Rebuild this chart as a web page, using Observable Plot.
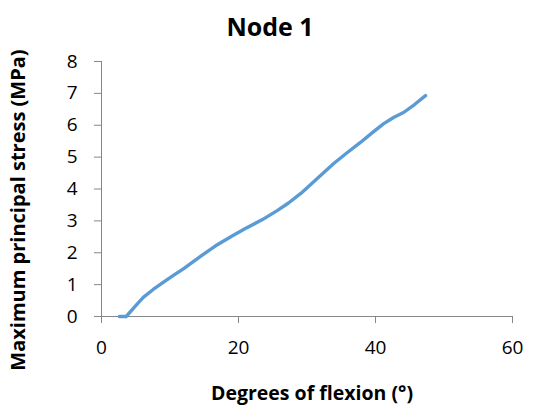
<!DOCTYPE html>
<html>
<head>
<meta charset="utf-8">
<script src="https://cdn.jsdelivr.net/npm/d3@7"></script>
<script src="https://cdn.jsdelivr.net/npm/@observablehq/plot@0.6"></script>
<style>
  html, body { margin: 0; padding: 0; background: #fff; overflow: hidden; }
  #title { width: 533px; height: 40px; box-sizing: border-box; padding-top: 11px; padding-left: 7px;
           text-align: center; font-family: "Open Sans", sans-serif; font-weight: bold; font-size: 25px; color: #000; line-height: 30px; white-space: nowrap; }
  #chart svg { overflow: visible; }
</style>
</head>
<body>
<div id="title"></div>
<div id="chart"></div>
<script>
const title = "Node 1";
const xLabel = "Degrees of flexion (°)";
const yLabel = "Maximum principal stress (MPa)";
const xTicks = [0, 20, 40, 60];
const yTicks = [0, 1, 2, 3, 4, 5, 6, 7, 8];
const flexion = [2.6, 3.6, 5.0, 6.1, 7.5, 9.0, 10.5, 12.0, 14.2, 16.6, 19.0, 21.0, 23.5, 25.7, 27.3, 29.1, 31.5, 33.9, 35.8, 37.8, 39.5, 41.2, 42.7, 44.1, 45.7, 47.3];
const stress  = [0.0, 0.0, 0.34, 0.60, 0.84, 1.07, 1.29, 1.50, 1.85, 2.21, 2.52, 2.76, 3.04, 3.33, 3.56, 3.86, 4.33, 4.80, 5.13, 5.46, 5.76, 6.05, 6.25, 6.40, 6.65, 6.93];

document.getElementById("title").textContent = title;
const data = flexion.map((x, i) => ({x, y: stress[i]}));

const chart = Plot.plot({
  width: 533,
  height: 366,
  marginTop: 21,
  marginBottom: 90,
  marginLeft: 101,
  marginRight: 21,
  x: {domain: [0, 60]},
  y: {domain: [0, 8]},
  style: {fontFamily: "Open Sans, sans-serif", fontSize: "19px", color: "#000", background: "#fff", overflow: "visible"},
  marks: [
    Plot.ruleY([0], {stroke: "#868686", strokeWidth: 1}),
    Plot.ruleX([0], {stroke: "#868686", strokeWidth: 1}),
    Plot.axisY({ticks: yTicks, tickSize: 7, tickPadding: 17, stroke: "#868686", label: null, tickFormat: d => String(d)}),
    Plot.axisX({ticks: xTicks, tickSize: 7, tickPadding: 17, stroke: "#868686", label: null, tickFormat: d => String(d)}),
    Plot.line(data, {x: "x", y: "y", stroke: "#5B9BD5", strokeWidth: 3.4, strokeLinejoin: "round", strokeLinecap: "round"}),
    Plot.text([xLabel], {text: d => d, frameAnchor: "bottom", dx: 5, dy: 77, lineAnchor: "middle", fontWeight: "bold", fontSize: 19.5}),
    Plot.text([yLabel], {text: d => d, frameAnchor: "left", rotate: -90, dx: -83, dy: 21, lineAnchor: "middle", textAnchor: "middle", fontWeight: "bold", fontSize: 20})
  ]
});
document.getElementById("chart").appendChild(chart);
</script>
</body>
</html>
